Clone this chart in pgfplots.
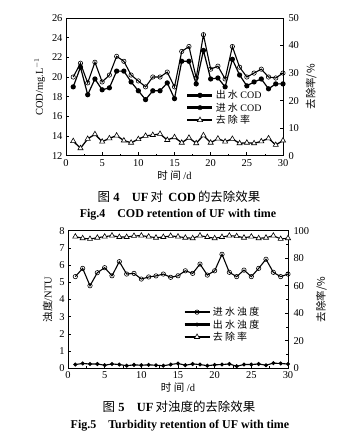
\documentclass[border=0pt]{standalone}
\usepackage{fontspec}
\setmainfont{Liberation Serif}
\newfontfamily\cjk{Noto Sans CJK SC}
\usepackage{pgfplots}
\pgfplotsset{compat=1.18}
\pgfplotsset{
  mybase/.style={scale only axis, xmin=0, xmax=30, xtick={0,5,...,30}, minor x tick num=1,
    tick align=inside, axis line style={line width=0.9pt},
    every tick/.style={line width=0.7pt, black},
    major tick length=3.5pt, minor tick length=2pt,
    tick label style={font=\fontsize{10.5}{11}\selectfont},
    /pgf/number format/assume math mode=true,
    label style={font=\fontsize{10.5}{12}\selectfont},
    legend image code/.code={
      \draw[line width=2.6pt, mark=none] (0bp,0bp) -- (25bp,0bp);
      \draw[mark repeat=2,mark phase=2] plot coordinates {(0bp,0bp)(12.5bp,0bp)(25bp,0bp)};
    },
    legend cell align=left,
  },
  filledc/.style={black, line width=1.2pt, mark=*, mark size=2pt},
  openc/.style={black, line width=1.1pt, mark=o, mark options={fill=white, line width=0.6pt}, mark size=2.2pt},
  tri/.style={black, line width=1.3pt, mark=triangle*, mark options={fill=white, line width=0.6pt}, mark size=3pt},
  smalld/.style={black, line width=1.1pt, mark=*, mark size=1.4pt},
}
\begin{document}
\begin{tikzpicture}
\useasboundingbox (0bp,0bp) rectangle (351bp,438bp);
% ---------- Fig 4 ----------
\begin{axis}[mybase, at={(66bp,282.3bp)}, anchor=south west, width=217bp, height=137.7bp,
  ymin=12, ymax=26, ytick={12,14,...,26}, ytick pos=left, xtick pos=bottom,
  xlabel={{\cjk 时 间} /d}, ylabel={COD/mg.L$^{-1}$},
  xlabel style={yshift=2pt},
  legend style={draw=none, fill=none, at={(0.553,0.49)}, anchor=north west,
    font=\fontsize{10}{11}\selectfont, row sep=-1.5pt, inner sep=0pt}]
\addplot[filledc] coordinates {(1,19.0)(2,21.0)(3,18.2)(4,19.8)(5,18.7)(6,18.9)(7,20.6)(8,20.6)(9,19.5)(10,18.6)(11,17.7)(12,18.6)(13,18.6)(14,19.4)(15,17.8)(16,21.6)(17,21.6)(18,19.3)(19,22.7)(20,19.8)(21,19.9)(22,19.0)(23,21.8)(24,20.2)(25,19.1)(26,19.5)(27,19.8)(28,18.8)(29,19.3)(30,19.3)};
\addlegendentry{{\cjk 出 水} COD}
\addplot[openc] coordinates {(1,20.0)(2,21.4)(3,19.4)(4,21.5)(5,19.5)(6,20.2)(7,22.1)(8,21.6)(9,20.2)(10,19.6)(11,19.0)(12,20.0)(13,20.0)(14,20.5)(15,19.0)(16,22.6)(17,23.1)(18,19.9)(19,24.3)(20,20.8)(21,21.1)(22,19.8)(23,23.1)(24,21.0)(25,20.0)(26,20.4)(27,20.8)(28,20.0)(29,19.9)(30,20.4)};
\addlegendentry{{\cjk 进 水} COD}
\addlegendimage{tri}
\addlegendentry{\cjk 去 除 率}
\end{axis}
\begin{axis}[mybase, at={(66bp,282.3bp)}, anchor=south west, width=217bp, height=137.7bp,
  ymin=0, ymax=50, ytick={0,10,...,50}, axis x line=none, axis y line*=right,
  yticklabel style={xshift=2pt},
  ylabel={\cjk 去除率/\%}]
\addplot[tri] coordinates {(1,5.3)(2,2.7)(3,6.1)(4,7.8)(5,5.1)(6,6.3)(7,7.3)(8,5.5)(9,4.7)(10,6.0)(11,7.2)(12,7.5)(13,7.9)(14,5.7)(15,6.7)(16,4.7)(17,6.5)(18,4.5)(19,7.4)(20,4.7)(21,6.2)(22,5.1)(23,6.1)(24,4.5)(25,4.7)(26,4.5)(27,5.2)(28,6.3)(29,3.9)(30,5.5)};
\end{axis}
\node[font=\fontsize{12.5}{14}\selectfont] at (179bp,241bp) {{\cjk 图} \textbf{4}\quad \textbf{UF}\,{\cjk 对}\, \textbf{COD}\,{\cjk 的去除效果}};
\node[font=\bfseries\fontsize{12}{14}\selectfont] at (178bp,223bp) {Fig.4\quad COD retention of UF with time};
% ---------- Fig 5 ----------
\begin{axis}[mybase, at={(68bp,69.7bp)}, anchor=south west, width=220bp, height=137.6bp,
  ymin=0, ymax=8, ytick={0,1,...,8}, ytick pos=left, xtick pos=bottom,
  xlabel={{\cjk 时 间} /d}, ylabel={{\cjk 浊度}/NTU},
  xlabel style={yshift=3pt},
  legend style={draw=none, fill=none, at={(0.523,0.46)}, anchor=north west,
    font=\fontsize{10}{11}\selectfont, row sep=-1.5pt, inner sep=0pt}]
\addplot[openc] coordinates {(1,5.33)(2,5.81)(3,4.80)(4,5.56)(5,5.85)(6,5.38)(7,6.20)(8,5.48)(9,5.52)(10,5.19)(11,5.31)(12,5.37)(13,5.48)(14,5.29)(15,5.38)(16,5.67)(17,5.52)(18,6.06)(19,5.42)(20,5.67)(21,6.63)(22,5.58)(23,5.33)(24,5.71)(25,5.33)(26,5.81)(27,6.34)(28,5.58)(29,5.33)(30,5.48)};
\addlegendentry{\cjk 进 水 浊 度}
\addplot[smalld] coordinates {(1,0.22)(2,0.28)(3,0.25)(4,0.25)(5,0.18)(6,0.25)(7,0.22)(8,0.15)(9,0.20)(10,0.18)(11,0.20)(12,0.18)(13,0.15)(14,0.22)(15,0.28)(16,0.18)(17,0.25)(18,0.22)(19,0.15)(20,0.20)(21,0.22)(22,0.25)(23,0.12)(24,0.22)(25,0.22)(26,0.25)(27,0.18)(28,0.30)(29,0.28)(30,0.25)};
\addlegendentry{\cjk 出 水 浊 度}
\addlegendimage{tri}
\addlegendentry{\cjk 去 除 率}
\end{axis}
\begin{axis}[mybase, at={(68bp,69.7bp)}, anchor=south west, width=220bp, height=137.6bp,
  ymin=0, ymax=100, ytick={0,20,...,100}, minor y tick num=1, axis x line=none, axis y line*=right,
  yticklabel style={xshift=2pt},
  ylabel={\cjk 去除率/\%}]
\addplot[tri, line width=1.1pt] coordinates {(1,95.7)(2,94.5)(3,94.0)(4,94.9)(5,95.7)(6,96.4)(7,95.4)(8,95.4)(9,96.2)(10,96.4)(11,95.7)(12,94.9)(13,95.4)(14,96.2)(15,95.7)(16,94.9)(17,94.5)(18,96.4)(19,95.4)(20,94.5)(21,95.4)(22,96.4)(23,96.0)(24,94.9)(25,95.7)(26,94.5)(27,94.9)(28,96.4)(29,94.0)(30,94.5)};
\end{axis}
\node[font=\fontsize{12.5}{14}\selectfont] at (179bp,31bp) {{\cjk 图} \textbf{5}\quad \textbf{UF}\,{\cjk 对浊度的去除效果}};
\node[font=\bfseries\fontsize{12}{14}\selectfont] at (180bp,12bp) {Fig.5\quad Turbidity retention of UF with time};
\end{tikzpicture}
\end{document}
